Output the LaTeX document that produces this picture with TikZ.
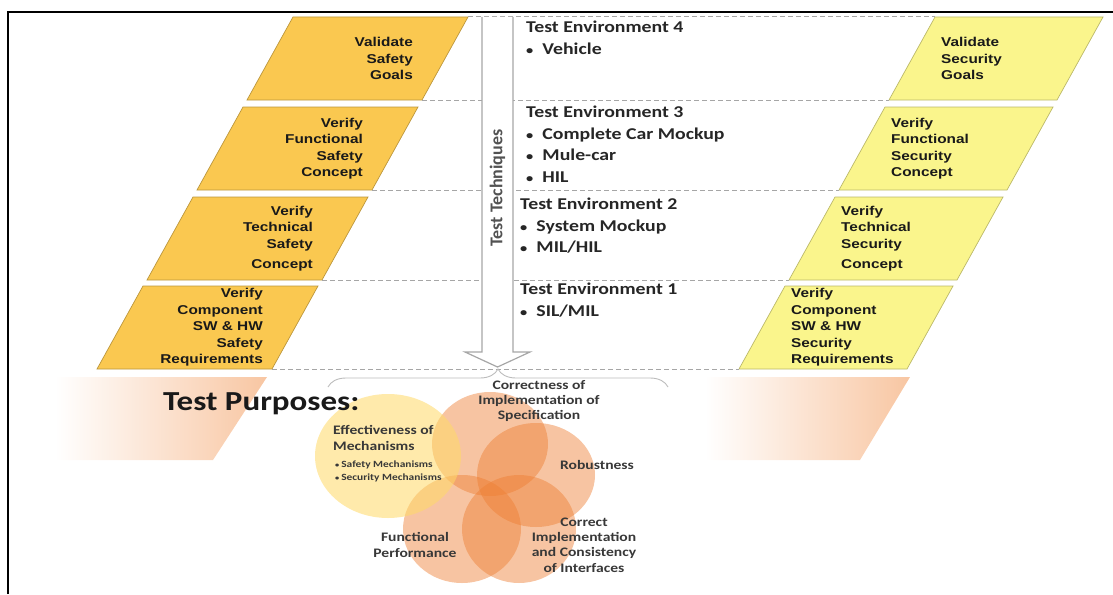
\documentclass[tikz,border=0pt]{standalone}
\usepackage{fontspec}
\usepackage{tikz}
\usetikzlibrary{positioning,calc,decorations.pathreplacing}
\newfontfamily\slabfont[FakeStretch=1.2]{Liberation Sans}
\newfontfamily\envfont[FakeStretch=1.2]{Carlito}
\newfontfamily\techfont{Carlito}
\definecolor{safetyc}{HTML}{FAC850}
\definecolor{securityc}{HTML}{FAF58C}
\definecolor{peachc}{HTML}{F8C6A2}
\definecolor{orangec}{HTML}{ED7D31}
\definecolor{goldc}{HTML}{FFD966}
\definecolor{dashc}{HTML}{A6A6A6}
% slanted box: top-left x, top y, width, style, name
\newcommand*{\Slab}[5]{\draw[#4] (#1,#2) -- ++(#3,0) -- ++(-46,83) -- ++(-#3,0) -- cycle;
  \coordinate (#5-tl) at (#1,#2);
  \coordinate (#5-tr) at (#1+#3,#2);
  \coordinate (#5-bl) at (#1-46,#2+83);
  \coordinate (#5-br) at (#1+#3-46,#2+83);
  \coordinate (#5-l) at (#1-23,#2+41.5);
  \coordinate (#5-r) at (#1+#3-23,#2+41.5);
}
\newcommand*{\Bul}{{\fontsize{12}{12}\selectfont•}\hspace{0.55em}}

\begin{document}
\begin{tikzpicture}[x=1pt,y=-1pt]
\tikzstyle{safety}=[fill=safetyc,draw=safetyc!75!black,line width=0.7pt]
\tikzstyle{security}=[fill=securityc,draw=securityc!75!black,line width=0.7pt]
\tikzstyle{slabtext}=[font={\slabfont\bfseries\fontsize{12.8}{16.5}\selectfont},text=black!90,align=right,inner sep=0pt]
\tikzstyle{envtext}=[font={\envfont\bfseries\fontsize{16.5}{21.5}\selectfont},text=black!85,align=left,inner sep=0pt]
\tikzstyle{venntext}=[font={\envfont\bfseries\fontsize{13}{15.3}\selectfont},text=black!78,align=center,inner sep=0pt]
\tikzstyle{level}=[draw=dashc,line width=1pt,dash pattern=on 5pt off 3pt]
\tikzstyle{venn}=[fill=orangec,fill opacity=0.45]
\useasboundingbox (0,0) rectangle (1113,594);
\draw[line width=2pt] (8,594) -- (8,12.5) -- (1113,12.5);
% safety side
\Slab{293}{17}{175}{safety}{s1}
\Slab{243}{107}{175}{safety}{s2}
\Slab{193}{197}{175}{safety}{s3}
\Slab{143}{286}{175}{safety}{s4}
% security side
\Slab{935}{17}{168}{security}{c1}
\Slab{885}{107}{168}{security}{c2}
\Slab{835}{197}{168}{security}{c3}
\Slab{785}{286}{168}{security}{c4}
\draw[level] (s1-tr) -- (c1-tl);
\foreach \i in {1,...,4}
  \draw[level] (s\i-br) -- (c\i-bl);
\node[slabtext,anchor=east] (sg) at ($(s1-r)+(-32,0)$) {Validate\\Safety\\Goals};
\node[slabtext,anchor=east] (sf) at ($(s2-r)+(-32,0)$) {Verify\\Functional\\Safety\\Concept};
\node[slabtext,anchor=east] (st) at ($(s3-r)+(-32,0)$) {Verify\\Technical\\Safety\\[3.5pt]Concept};
\node[slabtext,anchor=east] (sc) at ($(s4-r)+(-32,0)$) {Verify\\Component\\SW \& HW\\Safety\\Requirements};
\node[slabtext,align=left,anchor=west] (cg) at ($(c1-l)+(29,0)$) {Validate\\Security\\Goals};
\node[slabtext,align=left,anchor=west] (cf) at ($(c2-l)+(29,0)$) {Verify\\Functional\\Security\\Concept};
\node[slabtext,align=left,anchor=west] (ct) at ($(c3-l)+(29,0)$) {Verify\\Technical\\Security\\[3.5pt]Concept};
\node[slabtext,align=left,anchor=west] (cc) at ($(c4-l)+(29,0)$) {Verify\\Component\\SW \& HW\\Security\\Requirements};
% test techniques arrow
\filldraw[fill=white,draw=dashc,line width=1.2pt] (482,17) -- (482,352) -- (465,352) -- (497.5,367)
      -- (530,352) -- (513,352) -- (513,17);
\node[font={\techfont\bfseries\fontsize{18}{20}\selectfont},text=black!68,rotate=90] (tech) at (497.5,188) {Test Techniques};
\node[envtext,anchor=west] (env4) at (526,38) {Test Environment 4\\\Bul Vehicle};
\node[envtext,anchor=west] (env3) at (526,144) {Test Environment 3\\\Bul Complete Car Mockup\\\Bul Mule-car\\\Bul HIL};
\node[envtext,anchor=west] (env2) at (520,226) {Test Environment 2\\\Bul System Mockup\\\Bul MIL/HIL};
\node[envtext,anchor=west] (env1) at (520,300) {Test Environment 1\\\Bul SIL/MIL};
% test purposes
\shade[left color=white,right color=peachc] (55,377) -- (267,377) -- (213,460) -- (55,460) -- cycle;
\shade[left color=white,right color=peachc] (705,377) -- (910,377) -- (860,460) -- (705,460) -- cycle;
\draw[draw=dashc!75,line width=0.9pt,decorate,decoration={brace,amplitude=18pt}] (328,387) -- (668,387);
\fill[venn] (490,444) ellipse (58 and 52);
\fill[venn] (536,475) ellipse (59 and 52);
\fill[venn] (519,529) ellipse (57 and 54);
\fill[venn] (462,529) ellipse (59 and 54);
\fill[fill=goldc,fill opacity=0.55] (388,456) ellipse (73 and 62);
\node[font={\envfont\bfseries\fontsize{27.5}{30}\selectfont},text=black!90,anchor=base west,inner sep=0pt] (purp) at (163,410) {Test Purposes:};
\node[venntext] (corr) at (539,401) {Correctness of\\Implementation of\\Specification};
\node[venntext] (robu) at (597,465) {Robustness};
\node[venntext] (intf) at (584,545) {Correct\\Implementation\\and Consistency\\of Interfaces};
\node[venntext] (perf) at (415,545) {Functional\\Performance};
\node[venntext,align=left,anchor=west] (effe) at (333,438) {Effectiveness of\\Mechanisms};
\node[venntext,align=left,anchor=west,font={\envfont\bfseries\fontsize{9.5}{13}\selectfont}] (mech) at (335,471)
     {{\fontsize{7}{7}\selectfont•}\hspace{0.2em}Safety Mechanisms\\{\fontsize{7}{7}\selectfont•}\hspace{0.2em}Security Mechanisms};
\end{tikzpicture}
\end{document}
